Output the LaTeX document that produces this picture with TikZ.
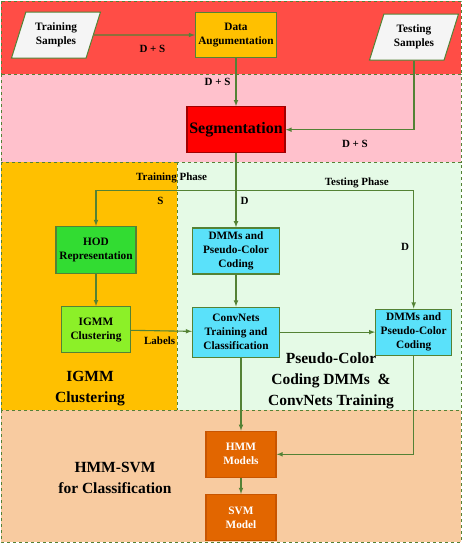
\documentclass[tikz,border=0pt]{standalone}
\usepackage{fontspec}
\setmainfont{Liberation Serif}
\usepackage{xcolor}
\usetikzlibrary{shapes.geometric,arrows,positioning,calc}

\definecolor{arrgreen}{RGB}{84,130,53}
\definecolor{redband}{RGB}{255,77,70}
\definecolor{pinkband}{RGB}{255,193,204}
\definecolor{orangeband}{RGB}{255,192,0}
\definecolor{greenband}{RGB}{229,250,230}
\definecolor{peachband}{RGB}{248,203,160}
\definecolor{samplefill}{RGB}{245,245,245}
\definecolor{augfill}{RGB}{255,192,0}
\definecolor{segfill}{RGB}{255,0,0}
\definecolor{segborder}{RGB}{160,0,0}
\definecolor{hodfill}{RGB}{50,220,50}
\definecolor{igmmfill}{RGB}{140,240,40}
\definecolor{cyanfill}{RGB}{90,225,250}
\definecolor{hmmfill}{RGB}{226,102,0}
\definecolor{hmmborder}{RGB}{200,85,0}

\begin{document}
\begin{tikzpicture}[
    x=1pt, y=-1pt,
    box/.style={rectangle, draw=arrgreen, line width=1.2pt, align=center, inner sep=1pt,
        font=\fontsize{11.3}{14}\selectfont\bfseries, fill=#1},
    box/.default=white,
    sample/.style={trapezium, trapezium left angle=65, trapezium right angle=115,
        trapezium stretches body, draw=arrgreen, line width=1pt, fill=samplefill,
        align=center, font=\fontsize{11.3}{14}\selectfont\bfseries,
        minimum width=89pt, minimum height=46pt},
    band/.style={draw=arrgreen, dashed, line width=0.8pt, fill=#1},
    lbl/.style={font=\fontsize{11}{12}\selectfont\bfseries, text=black, inner sep=1pt},
    title/.style={font=\fontsize{15.5}{21}\selectfont\bfseries, align=center},
    arr/.style={->, >=latex, line width=1.1pt, color=arrgreen}
]
    \useasboundingbox (0,0) rectangle (463,546);

    % Bands
    \draw[band=redband] (1,1) rectangle (461,74);
    \draw[band=pinkband] (1,74) rectangle (461,162);
    \draw[band=orangeband] (1,162) rectangle (177,410);
    \draw[band=greenband] (177,162) rectangle (461,410);
    \draw[band=peachband] (1,410) rectangle (461,542);

    % Inputs
    \node[sample] (train) at (56,35) {Training\\Samples};
    \node[box=augfill, minimum width=81pt, minimum height=45pt] (aug) at (236,35) {Data\\Augumentation};
    \node[sample] (test) at (414,37) {Testing\\Samples};

    % Segmentation
    \node[box=segfill, draw=segborder, minimum width=98pt, minimum height=46pt,
        font=\fontsize{16}{18}\selectfont\bfseries, below=48pt of aug] (seg) {Segmentation};

    % Training phase
    \node[box=cyanfill, minimum width=87pt, minimum height=46pt, below=74pt of seg] (dmmtrain) {DMMs and\\Pseudo-Color\\Coding};
    \node[box=cyanfill, minimum width=87pt, minimum height=50pt, below=32pt of dmmtrain] (conv) {ConvNets\\Training and\\Classification};
    \node[box=hodfill, minimum width=80pt, minimum height=47pt] (hod) at (96,250) {HOD\\Representation};
    \node[box=igmmfill, minimum width=69pt, minimum height=46pt, below=32pt of hod] (igmm) {IGMM\\Clustering};

    % Testing phase
    \node[box=cyanfill, minimum width=76pt, minimum height=46pt, right=95pt of conv] (dmmtest) {DMMs and\\Pseudo-Color\\Coding};

    % Classification
    \node[box=hmmfill, draw=hmmborder, text=white, minimum width=70pt, minimum height=46pt,
        below=73pt of conv, xshift=5pt] (hmm) {HMM\\Models};
    \node[box=hmmfill, draw=hmmborder, text=white, minimum width=70pt, minimum height=46pt,
        below=16pt of hmm] (svm) {SVM\\Model};

    % Band titles
    \node[title] (igmmtitle) at (90,389) {IGMM\\Clustering};
    \node[title] (convtitle) at (331,381) {Pseudo-Color\\Coding DMMs~ \&\\ConvNets Training};
    \node[title] (hmmtitle) at (115,478) {HMM-SVM\\for Classification};

    % Arrows
    \draw[arr] (train) -- node[lbl, below=9pt, pos=0.58] (dsone) {D + S} (aug);
    \draw[arr] (aug) -- node[lbl, left=4pt] (dstwo) {D + S} (seg);
    \draw[arr] (test) |- node[lbl, below=9pt, pos=0.73] (dsthree) {D + S} (seg);

    \coordinate (fork) at ($(seg.south)+(0,37)$);
    \draw[arr] (seg) -- node[lbl, right=3pt, pos=0.65] (dtrain) {D} (dmmtrain);
    \draw[arr] (fork) -| node[lbl, above=6pt, pos=0.23] (trainphase) {Training Phase}
        node[lbl, below=5pt, pos=0.27] (slbl) {S} (hod);
    \draw[arr] (fork) -| node[lbl, above=1pt, pos=0.34] (testphase) {Testing Phase}
        node[lbl, left=3pt, pos=0.74] (dtest) {D} (dmmtest);

    \draw[arr] (hod) -- (igmm);
    \draw[arr] (dmmtrain) -- (conv);
    \draw[arr] (igmm) -- node[lbl, below=5pt, pos=0.47] (labels) {Labels} (conv);
    \draw[arr] (conv) -- (dmmtest);
    \draw[arr] (conv.south -| hmm.north) -- (hmm);
    \draw[arr] (dmmtest) |- (hmm);
    \draw[arr] (hmm) -- (svm);

\end{tikzpicture}
\end{document}
